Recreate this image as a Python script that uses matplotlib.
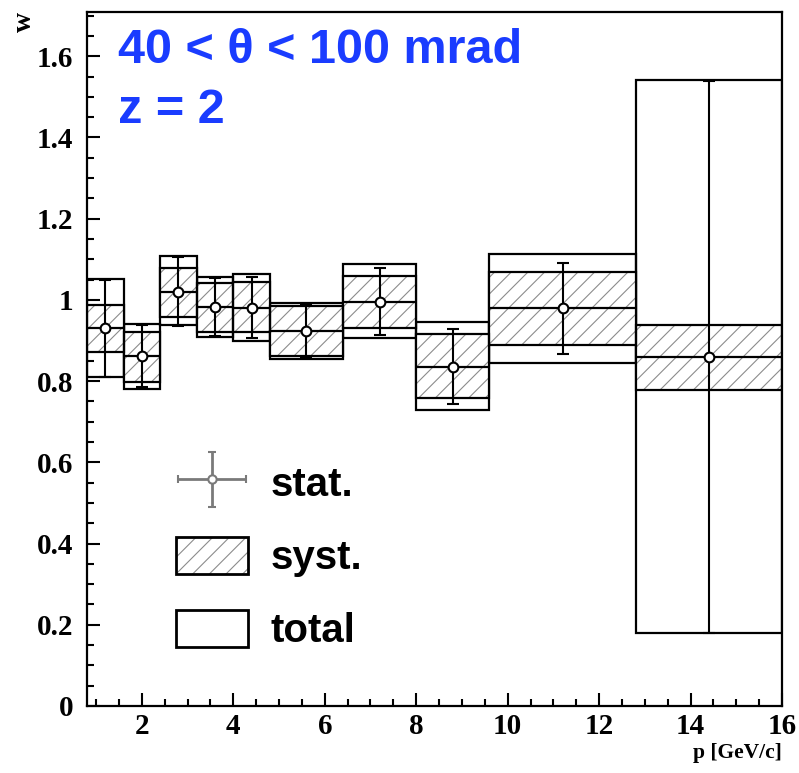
import numpy as np
import matplotlib
matplotlib.use('Agg')
import matplotlib.pyplot as plt
from matplotlib.patches import Rectangle
from matplotlib.ticker import MultipleLocator, FuncFormatter
from matplotlib.legend_handler import HandlerErrorbar, HandlerTuple

# momentum bins [GeV/c] and mean momentum of each bin
bin_edges = [0.8, 1.6, 2.4, 3.2, 4.0, 4.8, 6.4, 8.0, 9.6, 12.8, 16.0]
p_mean = [1.2, 2.0, 2.8, 3.6, 4.4, 5.6, 7.2, 8.8, 11.2, 14.4]

# w value with statistical error
w_val = [0.930, 0.862, 1.020, 0.982, 0.981, 0.924, 0.996, 0.836, 0.980, 0.860]
stat_err = [0.120, 0.076, 0.085, 0.071, 0.075, 0.065, 0.083, 0.092, 0.112, 0.680]

# systematic band
syst_lo = [0.871, 0.799, 0.959, 0.922, 0.922, 0.862, 0.932, 0.758, 0.889, 0.778]
syst_hi = [0.988, 0.920, 1.078, 1.041, 1.043, 0.984, 1.060, 0.916, 1.068, 0.938]

# total uncertainty band
tot_lo = [0.810, 0.781, 0.937, 0.908, 0.900, 0.854, 0.905, 0.730, 0.844, 0.180]
tot_hi = [1.052, 0.940, 1.109, 1.056, 1.064, 0.993, 1.089, 0.946, 1.113, 1.542]

legend_labels = ['stat.', 'syst.', 'total']

plt.rcParams['hatch.color'] = '#8c8c8c'
plt.rcParams['hatch.linewidth'] = 0.8

fig = plt.figure(figsize=(7.99, 7.73), dpi=100)
ax = fig.add_axes([87 / 799, 1 - 706 / 773, 695 / 799, 694 / 773])

left = np.array(bin_edges[:-1])
width = np.diff(bin_edges)
tot_lo_a, tot_hi_a = np.array(tot_lo), np.array(tot_hi)
syst_lo_a, syst_hi_a = np.array(syst_lo), np.array(syst_hi)

# total boxes
ax.bar(left, tot_hi_a - tot_lo_a, width=width, bottom=tot_lo_a, align='edge',
       fill=False, edgecolor='black', linewidth=1.6, zorder=1)
# systematic boxes: hatch first, then black outline
ax.bar(left, syst_hi_a - syst_lo_a, width=width, bottom=syst_lo_a, align='edge',
       facecolor='white', hatch='//', linewidth=0, zorder=2)
ax.bar(left, syst_hi_a - syst_lo_a, width=width, bottom=syst_lo_a, align='edge',
       fill=False, edgecolor='black', linewidth=1.6, zorder=3)
# central value across each bin
ax.hlines(w_val, left, left + width, colors='black', linewidth=1.6, zorder=3)
# statistical errors
ax.errorbar(p_mean, w_val, yerr=stat_err, fmt='o', color='black', mfc='white',
            mec='black', ms=7, mew=1.5, elinewidth=1.5, capsize=4, capthick=2.2,
            zorder=4)

ax.set_xlim(0.8, 16)
ax.set_ylim(0, 1.709)
ax.xaxis.set_major_locator(MultipleLocator(2))
ax.xaxis.set_minor_locator(MultipleLocator(0.5))
ax.yaxis.set_major_locator(MultipleLocator(0.2))
ax.yaxis.set_minor_locator(MultipleLocator(0.05))
ax.yaxis.set_major_formatter(FuncFormatter(lambda v, _: f'{v:g}'))
ax.tick_params(which='both', direction='in', top=False, right=False, width=1.5)
ax.tick_params(which='major', length=9.5)
ax.tick_params(which='minor', length=5)
ax.tick_params(axis='y', pad=10)
ax.tick_params(axis='x', pad=5)
for spine in ax.spines.values():
    spine.set_linewidth(1.6)
for lab in ax.get_xticklabels() + ax.get_yticklabels():
    lab.set_fontfamily('Liberation Serif')
    lab.set_fontweight('bold')
    lab.set_fontsize(21)

ax.set_xlabel('p [GeV/c]', loc='right', fontfamily='Liberation Serif',
              fontweight='bold', fontsize=15.5)
ax.xaxis.set_label_coords(1.0, -0.054)
ax.set_ylabel('w', loc='top', fontfamily='Liberation Serif',
              fontweight='bold', fontsize=20)
ax.yaxis.set_label_coords(-0.072, 1.0)

blue = '#1a3cff'
ax.text(0.045, 0.9265, '40 < θ < 100 mrad', transform=ax.transAxes, color=blue,
        fontfamily='Liberation Sans', fontweight='bold', fontsize=35, va='baseline')
ax.text(0.045, 0.840, 'z = 2', transform=ax.transAxes, color=blue,
        fontfamily='Liberation Sans', fontweight='bold', fontsize=35, va='baseline')

# legend handles
stat_handle = ax.errorbar([np.nan], [np.nan], xerr=[1], yerr=[1], fmt='o',
                          color='#7a7a7a', mfc='white', mec='#7a7a7a', ms=6,
                          mew=1.5, elinewidth=2, capsize=3, capthick=2)
syst_fill = Rectangle((0, 0), 1, 1, facecolor='white', hatch='//', linewidth=0)
syst_edge = Rectangle((0, 0), 1, 1, fill=False, edgecolor='black', linewidth=2)
total_handle = Rectangle((0, 0), 1, 1, fill=False, edgecolor='black', linewidth=2)

ax.legend([stat_handle, (syst_fill, syst_edge), total_handle], legend_labels,
          handler_map={type(stat_handle): HandlerErrorbar(xerr_size=0.85, yerr_size=0.68),
                       tuple: HandlerTuple(ndivide=1)},
          loc='upper left', bbox_to_anchor=(0.128, 0.350), borderpad=0,
          borderaxespad=0, frameon=False, handlelength=1.8, handleheight=1.05,
          handletextpad=0.55, labelspacing=0.82,
          prop={'family': 'Liberation Sans', 'weight': 'bold', 'size': 29})

fig.savefig('out.png', dpi=100)
